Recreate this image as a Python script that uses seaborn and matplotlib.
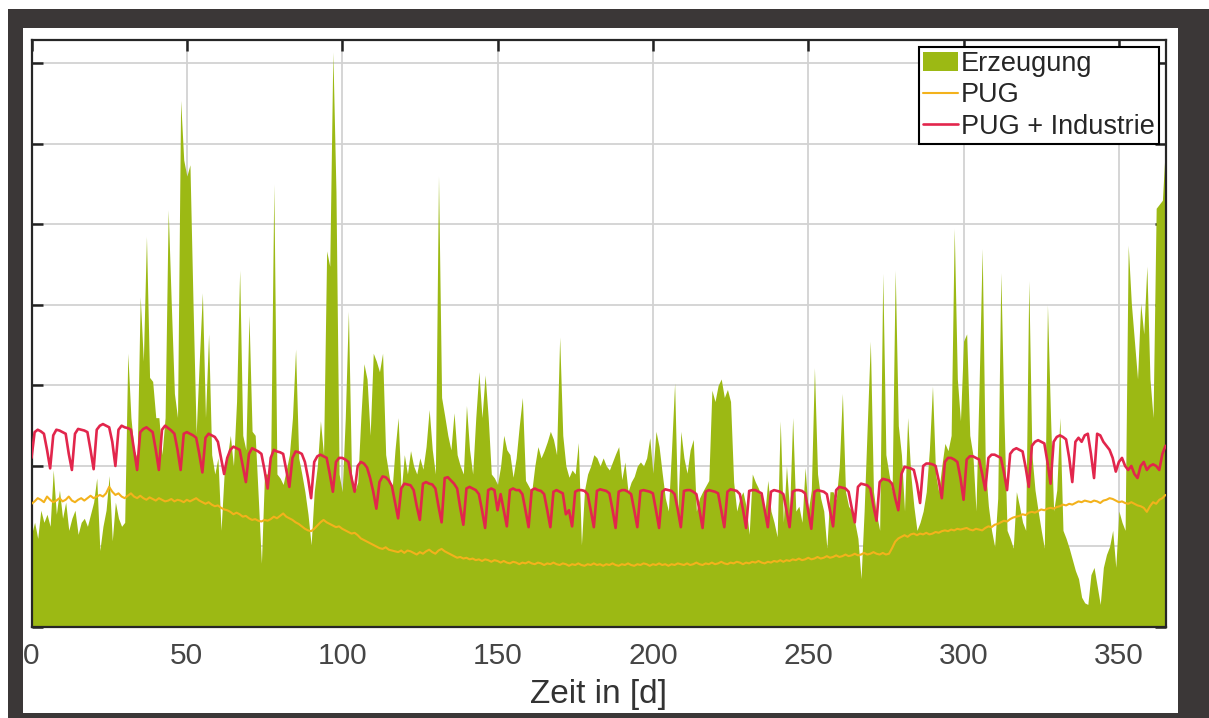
import numpy as np
import pandas as pd
import matplotlib
matplotlib.use("Agg")
import matplotlib.pyplot as plt
from matplotlib.patches import Rectangle
import seaborn as sns

# ---------------- data (daily values, day 0 .. 365) ----------------
erzeugung = [
    1.15, 1.3, 1.1, 1.45, 1.3, 1.4, 1.25, 1.95, 1.4, 1.7,
    1.35, 1.55, 1.2, 1.35, 1.45, 1.15, 1.3, 1.35, 1.25, 1.4,
    1.55, 1.85, 0.95, 1.25, 1.45, 1.88, 1.07, 1.55, 1.35, 1.25,
    1.3, 3.4, 2.6, 2.2, 2.1, 4.1, 3.3, 4.85, 3.1, 3.05,
    2.6, 2.6, 2.14, 2.6, 5.18, 4.0, 2.9, 2.6, 6.54, 5.8,
    5.6, 5.74, 4.0, 2.4, 3.3, 4.15, 2.6, 3.64, 2.14, 1.9,
    2.1, 1.2, 1.9, 2.1, 2.38, 2.0, 2.8, 4.43, 2.38, 2.2,
    3.87, 2.43, 2.38, 1.6, 0.79, 1.9, 1.9, 2.1, 5.5, 1.9,
    1.85, 1.77, 1.95, 2.14, 2.6, 3.45, 2.1, 1.9, 1.68, 1.4,
    1.02, 1.68, 2.0, 2.56, 2.14, 4.67, 4.48, 7.14, 5.4, 1.9,
    1.68, 2.6, 3.92, 1.9, 1.68, 1.8, 2.6, 3.27, 3.08, 2.38,
    3.4, 3.3, 3.17, 3.4, 2.14, 1.9, 1.68, 2.2, 2.6, 1.68,
    2.14, 1.9, 2.19, 2.0, 1.9, 2.1, 1.96, 2.24, 2.7, 2.2,
    1.9, 5.6, 2.85, 2.62, 2.38, 2.2, 2.66, 2.14, 2.0, 1.9,
    2.75, 2.2, 1.9, 2.6, 3.17, 2.6, 3.13, 2.6, 1.9, 1.85,
    1.77, 2.0, 2.38, 2.2, 2.14, 1.86, 2.1, 2.5, 2.85, 1.82,
    1.75, 1.68, 2.0, 2.24, 2.1, 2.19, 2.3, 2.43, 2.33, 2.14,
    3.6, 2.38, 2.0, 1.86, 1.95, 1.9, 2.29, 1.02, 1.7, 1.9,
    2.0, 2.14, 2.1, 2.0, 2.1, 2.0, 1.95, 2.05, 2.15, 2.24,
    1.83, 2.05, 1.68, 1.8, 1.87, 2.0, 2.05, 2.0, 2.1, 2.35,
    1.91, 2.43, 2.24, 1.91, 1.6, 1.44, 2.2, 3.03, 1.44, 2.43,
    2.1, 1.91, 2.2, 2.33, 1.44, 1.6, 1.68, 1.75, 1.82, 2.94,
    2.8, 3.0, 3.08, 2.85, 2.95, 2.8, 1.8, 1.44, 1.6, 1.68,
    1.5, 1.15, 1.9, 1.8, 1.72, 1.6, 1.4, 1.82, 1.44, 1.3,
    1.12, 2.56, 1.3, 2.0, 1.44, 2.6, 1.44, 1.5, 1.3, 1.98,
    1.44, 1.7, 3.22, 1.9, 1.6, 1.44, 0.98, 1.68, 1.68, 1.58,
    2.0, 2.9, 1.68, 1.5, 1.44, 1.3, 1.1, 0.6, 1.44, 2.5,
    3.55, 1.68, 1.4, 1.2, 4.39, 2.14, 1.9, 1.68, 4.43, 2.5,
    2.14, 1.44, 2.6, 1.9, 1.5, 1.2, 1.3, 1.44, 1.68, 2.2,
    2.99, 1.9, 1.68, 2.0, 2.28, 2.19, 2.38, 4.95, 3.08, 2.56,
    3.55, 3.64, 2.38, 2.14, 1.44, 3.0, 4.7, 2.0, 1.5, 1.2,
    1.0, 1.6, 4.4, 2.6, 1.2, 1.1, 0.98, 1.68, 1.5, 1.3,
    1.2, 4.3, 2.14, 1.7, 1.44, 1.2, 0.98, 4.0, 2.6, 1.44,
    1.7, 2.6, 1.2, 1.1, 0.98, 0.84, 0.7, 0.6, 0.37, 0.3,
    0.28, 0.65, 0.74, 0.51, 0.28, 0.74, 0.9, 1.0, 1.2, 0.74,
    1.44, 1.3, 1.2, 4.74, 4.02, 3.55, 3.08, 4.02, 3.64, 4.48,
    3.08, 2.6, 5.2, 5.25, 5.3, 6.0,
]

pug = [
    1.53, 1.56, 1.6, 1.58, 1.55, 1.62, 1.58, 1.55, 1.57, 1.6,
    1.56, 1.58, 1.62, 1.57, 1.55, 1.58, 1.6, 1.57, 1.6, 1.63,
    1.6, 1.62, 1.64, 1.62, 1.66, 1.74, 1.68, 1.64, 1.66, 1.62,
    1.6, 1.63, 1.66, 1.62, 1.6, 1.63, 1.6, 1.58, 1.61, 1.59,
    1.57, 1.6, 1.58, 1.56, 1.57, 1.59, 1.56, 1.58, 1.57, 1.55,
    1.58, 1.56, 1.58, 1.6, 1.57, 1.55, 1.53, 1.55, 1.52, 1.5,
    1.51, 1.48, 1.46, 1.45, 1.43, 1.4, 1.42, 1.4, 1.37, 1.38,
    1.35, 1.33, 1.34, 1.32, 1.31, 1.33, 1.32, 1.34, 1.37, 1.35,
    1.38, 1.41, 1.37, 1.35, 1.33, 1.3, 1.28, 1.25, 1.22, 1.2,
    1.19, 1.22, 1.26, 1.3, 1.33, 1.3, 1.28, 1.26, 1.24, 1.25,
    1.22, 1.2, 1.18, 1.16, 1.17, 1.14, 1.1, 1.08, 1.06, 1.04,
    1.02, 1.0, 0.98, 0.97, 0.99, 0.96, 0.95, 0.94, 0.93, 0.95,
    0.92, 0.95, 0.94, 0.92, 0.9, 0.93, 0.91, 0.94, 0.96, 0.93,
    0.91, 0.95, 0.97, 0.94, 0.92, 0.9, 0.88, 0.86, 0.87, 0.85,
    0.86, 0.84, 0.85, 0.83, 0.84, 0.82, 0.84, 0.83, 0.81, 0.83,
    0.82, 0.8, 0.82, 0.8, 0.79, 0.81, 0.8, 0.78, 0.8, 0.79,
    0.81, 0.79, 0.78, 0.8, 0.79, 0.77, 0.79, 0.78, 0.8, 0.78,
    0.77, 0.79, 0.78, 0.76, 0.78, 0.77, 0.79, 0.77, 0.76, 0.78,
    0.77, 0.79, 0.77, 0.78, 0.76, 0.78, 0.77, 0.79, 0.77, 0.76,
    0.78, 0.77, 0.79, 0.77, 0.76, 0.78, 0.77, 0.79, 0.78, 0.76,
    0.78, 0.77, 0.79, 0.77, 0.78, 0.76, 0.78, 0.77, 0.79, 0.78,
    0.77, 0.79, 0.77, 0.78, 0.8, 0.78, 0.77, 0.79, 0.78, 0.8,
    0.78, 0.79, 0.81, 0.79, 0.78, 0.8, 0.79, 0.81, 0.8, 0.78,
    0.8, 0.79, 0.81, 0.8, 0.82, 0.8, 0.79, 0.81, 0.8, 0.82,
    0.81, 0.83, 0.81, 0.83, 0.82, 0.84, 0.83, 0.85, 0.83, 0.84,
    0.86, 0.84, 0.85, 0.87, 0.85, 0.86, 0.88, 0.86, 0.87, 0.89,
    0.87, 0.88, 0.9, 0.88, 0.89, 0.91, 0.89, 0.9, 0.92, 0.9,
    0.91, 0.93, 0.91, 0.9, 0.92, 0.9, 0.91, 0.98, 1.06, 1.1,
    1.12, 1.14, 1.12, 1.15, 1.16, 1.14, 1.16, 1.15, 1.17, 1.15,
    1.16, 1.18, 1.17, 1.19, 1.2, 1.19, 1.21, 1.2, 1.22, 1.21,
    1.22, 1.23, 1.21, 1.2, 1.22, 1.21, 1.2, 1.23, 1.25, 1.24,
    1.27, 1.28, 1.3, 1.32, 1.31, 1.34, 1.36, 1.37, 1.38, 1.4,
    1.39, 1.42, 1.43, 1.42, 1.44, 1.46, 1.45, 1.47, 1.48, 1.47,
    1.49, 1.5, 1.52, 1.51, 1.53, 1.52, 1.54, 1.56, 1.55, 1.57,
    1.56, 1.55, 1.57, 1.56, 1.54, 1.57, 1.58, 1.6, 1.59, 1.57,
    1.55, 1.56, 1.54, 1.53, 1.55, 1.53, 1.51, 1.5, 1.48, 1.43,
    1.5, 1.55, 1.53, 1.58, 1.6, 1.64,
]

# one row per week (Mon..Sun), the last entries are the days 364 and 365
pug_industrie = [
    2.1, 2.42, 2.45, 2.43, 2.4, 2.2, 1.97,
    2.38, 2.45, 2.44, 2.42, 2.4, 2.15, 1.95,
    2.4, 2.46, 2.45, 2.44, 2.42, 2.2, 1.96,
    2.45, 2.5, 2.52, 2.5, 2.48, 2.3, 2.0,
    2.45, 2.5, 2.48, 2.47, 2.45, 2.2, 1.95,
    2.42, 2.46, 2.48, 2.45, 2.42, 2.2, 1.95,
    2.45, 2.5, 2.47, 2.44, 2.4, 2.2, 1.95,
    2.4, 2.42, 2.4, 2.38, 2.35, 2.15, 1.92,
    2.35, 2.4, 2.38, 2.36, 2.3, 2.1, 1.9,
    2.1, 2.2, 2.24, 2.22, 2.2, 2.0, 1.8,
    2.15, 2.22, 2.2, 2.18, 2.15, 1.95, 1.72,
    2.1, 2.2, 2.18, 2.17, 2.15, 1.95, 1.74,
    2.1, 2.18, 2.17, 2.15, 2.05, 1.85, 1.6,
    2.05, 2.12, 2.14, 2.12, 2.1, 1.9, 1.68,
    2.05, 2.1, 2.1, 2.08, 2.05, 1.85, 1.68,
    2.0, 2.05, 2.03, 1.98, 1.85, 1.68, 1.47,
    1.8, 1.87, 1.86, 1.82, 1.75, 1.55, 1.35,
    1.72, 1.78, 1.77, 1.76, 1.7, 1.5, 1.33,
    1.78, 1.8, 1.78, 1.77, 1.72, 1.5, 1.3,
    1.85, 1.86, 1.82, 1.78, 1.72, 1.48, 1.27,
    1.72, 1.74, 1.72, 1.7, 1.65, 1.45, 1.23,
    1.7, 1.72, 1.7, 1.45, 1.65, 1.45, 1.25,
    1.7, 1.72, 1.7, 1.7, 1.65, 1.45, 1.24,
    1.7, 1.72, 1.7, 1.69, 1.65, 1.45, 1.24,
    1.68, 1.7, 1.68, 1.66, 1.4, 1.45, 1.25,
    1.68, 1.7, 1.7, 1.69, 1.65, 1.45, 1.24,
    1.69, 1.71, 1.7, 1.69, 1.66, 1.46, 1.23,
    1.68, 1.7, 1.7, 1.68, 1.65, 1.45, 1.24,
    1.69, 1.7, 1.69, 1.68, 1.66, 1.45, 1.23,
    1.68, 1.71, 1.7, 1.69, 1.65, 1.46, 1.24,
    1.69, 1.7, 1.7, 1.68, 1.65, 1.45, 1.23,
    1.68, 1.7, 1.69, 1.68, 1.66, 1.45, 1.24,
    1.68, 1.71, 1.7, 1.69, 1.65, 1.46, 1.23,
    1.69, 1.7, 1.7, 1.68, 1.66, 1.45, 1.24,
    1.68, 1.7, 1.69, 1.68, 1.65, 1.45, 1.24,
    1.68, 1.7, 1.7, 1.69, 1.66, 1.44, 1.22,
    1.68, 1.7, 1.69, 1.68, 1.65, 1.45, 1.25,
    1.7, 1.74, 1.73, 1.72, 1.68, 1.48, 1.3,
    1.74, 1.78, 1.77, 1.76, 1.72, 1.5, 1.32,
    1.8, 1.84, 1.83, 1.82, 1.78, 1.6, 1.45,
    1.9, 1.99, 1.98, 1.97, 1.95, 1.78, 1.54,
    2.0, 2.03, 2.03, 2.02, 2.0, 1.82, 1.6,
    2.05, 2.1, 2.1, 2.08, 2.05, 1.85, 1.58,
    2.08, 2.12, 2.12, 2.1, 2.08, 1.9, 1.7,
    2.1, 2.14, 2.14, 2.12, 2.1, 1.92, 1.7,
    2.15, 2.2, 2.22, 2.2, 2.18, 1.98, 1.74,
    2.25, 2.3, 2.32, 2.3, 2.28, 2.05, 1.78,
    2.3, 2.36, 2.38, 2.36, 2.33, 2.1, 1.8,
    2.3, 2.35, 2.3, 2.38, 2.4, 2.15, 1.85,
    2.4, 2.38, 2.3, 2.25, 2.2, 2.1, 1.93,
    2.05, 2.1, 2.0, 1.95, 2.0, 1.9, 1.85,
    2.0, 2.05, 1.95, 2.0, 2.02, 2.0, 1.95,
    2.15, 2.25,
]

series_labels = ["Erzeugung", "PUG", "PUG + Industrie"]
x_ticks = [0, 50, 100, 150, 200, 250, 300, 350]
y_ticks = [0, 1, 2, 3, 4, 5, 6, 7]
x_label = "Zeit in [d]"

# ---------------- style ----------------
GREEN = "#9cb914"
ORANGE = "#f3b21c"
RED = "#e2264c"
DARK = "#3b3737"

sns.set_style("ticks")
plt.rcParams["font.family"] = ["Liberation Sans", "DejaVu Sans"]

W, H = 1209, 718
fig = plt.figure(figsize=(W / 100, H / 100), dpi=100)
fig.patch.set_facecolor("white")
ax = fig.add_axes([31.5 / W, 1 - 627 / H, (1165.5 - 31.5) / W, (627 - 40) / H])
ax.set_facecolor("white")

df_e = pd.DataFrame({"Tag": np.arange(len(erzeugung)), "Wert": erzeugung})
df_p = pd.DataFrame({"Tag": np.arange(len(pug)), "Wert": pug})
df_r = pd.DataFrame({"Tag": np.arange(len(pug_industrie)), "Wert": pug_industrie})

ax.fill_between(df_e["Tag"], df_e["Wert"], 0, color=GREEN, lw=0,
                label=series_labels[0], zorder=1)
sns.lineplot(data=df_p, x="Tag", y="Wert", ax=ax, color=ORANGE, lw=1.5,
             label=series_labels[1], zorder=3)
sns.lineplot(data=df_r, x="Tag", y="Wert", ax=ax, color=RED, lw=1.9,
             label=series_labels[2], zorder=4)

ax.set_xlim(0, 365)
ax.set_ylim(0, 7.29)
ax.set_xticks(x_ticks)
ax.set_yticks(y_ticks)
ax.set_yticklabels([])
ax.set_ylabel("")
ax.grid(True, color="#d2d2d2", lw=1.3)
ax.set_axisbelow(True)
ax.tick_params(axis="both", direction="in", top=True, right=True, left=True,
               bottom=False, length=8, width=1.8, color="#222222",
               labelcolor="#454545", labelsize=21.5, pad=11)
for s in ax.spines.values():
    s.set_visible(True)
    s.set_color("#262626")
    s.set_linewidth(1.6)

ax.set_xlabel(x_label, fontsize=24, color="#333333", labelpad=6)

leg = ax.legend(loc="upper right", fontsize=19.5, frameon=True, fancybox=False,
                edgecolor="black", framealpha=1, borderpad=0.15,
                labelspacing=0.2, handlelength=1.3, handletextpad=0.1,
                borderaxespad=0.25)
leg.get_frame().set_linewidth(1.5)
for t in leg.get_texts():
    t.set_color("#262626")

# dark picture frame
def band(x0, y0, x1, y1):
    fig.add_artist(Rectangle((x0 / W, 1 - y1 / H), (x1 - x0) / W, (y1 - y0) / H,
                             transform=fig.transFigure, facecolor=DARK,
                             edgecolor="none", zorder=10))

band(8, 9, W, 28)       # top
band(8, 9, 23, H)       # left
band(1178, 9, W, H)     # right
band(8, 713, W, H)      # bottom

fig.savefig("out.png", dpi=100, facecolor="white")
